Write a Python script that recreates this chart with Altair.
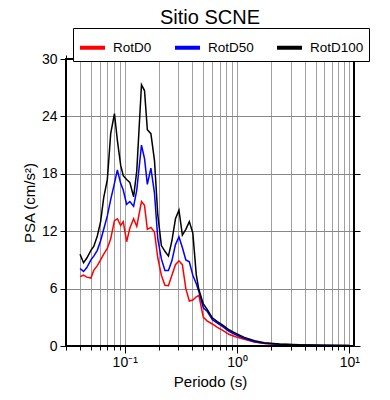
import altair as alt
import pandas as pd

# Periods (s)
periods = [0.040, 0.043, 0.046, 0.050, 0.053, 0.057, 0.061, 0.065, 0.070, 0.075,
           0.081, 0.086, 0.092, 0.097, 0.104, 0.111, 0.120, 0.128, 0.141, 0.150,
           0.159, 0.171, 0.184, 0.197, 0.212, 0.228, 0.245, 0.263, 0.283, 0.304,
           0.326, 0.350, 0.376, 0.404, 0.434, 0.457, 0.501, 0.544, 0.603, 0.668,
           0.740, 0.854, 0.986, 1.16, 1.43, 1.75, 2.38, 3.58, 5.40, 8.13, 10.0]

rotd100 = [9.6, 8.7, 9.2, 10.0, 10.4, 11.5, 13.0, 15.5, 17.4, 22.2,
           24.3, 21.5, 18.9, 17.8, 17.4, 17.1, 15.6, 18.3, 27.3, 26.7,
           22.6, 22.2, 19.4, 13.7, 10.5, 9.9, 9.4, 11.0, 13.3, 14.2,
           11.6, 12.2, 13.0, 11.8, 7.4, 5.9, 4.4, 3.8, 2.95, 2.55,
           2.2, 1.67, 1.3, 0.9, 0.55, 0.35, 0.22, 0.13, 0.09, 0.06, 0.05]

rotd50 = [8.1, 7.8, 8.2, 9.0, 9.4, 10.0, 11.0, 12.2, 13.6, 15.3,
          17.0, 18.4, 17.0, 16.3, 14.8, 15.1, 14.6, 16.3, 21.0, 19.6,
          16.9, 18.6, 16.0, 11.2, 9.1, 7.9, 7.9, 8.9, 10.6, 11.4,
          10.3, 9.0, 8.8, 7.4, 6.5, 5.7, 4.0, 3.6, 2.75, 2.4,
          2.05, 1.5, 1.15, 0.8, 0.45, 0.3, 0.18, 0.11, 0.07, 0.05, 0.04]

rotd0 = [7.25, 7.4, 7.2, 7.1, 7.9, 8.4, 9.0, 9.6, 10.2, 11.2,
         13.1, 13.3, 12.6, 13.0, 10.9, 12.3, 13.3, 12.5, 15.1, 14.7,
         12.2, 12.4, 11.9, 9.2, 7.4, 6.35, 6.3, 7.4, 8.5, 8.9,
         8.5, 6.0, 4.7, 4.8, 5.15, 5.3, 3.0, 2.6, 2.3, 1.95,
         1.65, 1.2, 0.95, 0.7, 0.42, 0.25, 0.15, 0.09, 0.06, 0.04, 0.03]

series_names = ["RotD0", "RotD50", "RotD100"]
series_colors = ["#ff0000", "#0000ff", "#000000"]

major_ticks = [0.1, 1, 10]
minor_ticks = [0.03, 0.04, 0.05, 0.06, 0.07, 0.08, 0.09,
               0.2, 0.3, 0.4, 0.5, 0.6, 0.7, 0.8, 0.9,
               2, 3, 4, 5, 6, 7, 8, 9]
grid_x = sorted([t for t in minor_ticks if t > 0.031] + major_ticks)
y_ticks = [0, 6, 12, 18, 24, 30]

rows = []
for name, vals in zip(series_names, [rotd0, rotd50, rotd100]):
    for p, v in zip(periods, vals):
        rows.append({"period": p, "psa": v, "serie": name})
df = pd.DataFrame(rows)

W, H = 288, 287
FONT = "Liberation Sans"
xscale = alt.Scale(type="log", domain=[0.03, 11], nice=False)
yscale = alt.Scale(domain=[0, 30], nice=False, zero=True)

base = alt.Chart(df)

lines = base.mark_line(strokeWidth=1.5).encode(
    x=alt.X("period:Q", scale=xscale,
            axis=alt.Axis(orient="bottom", values=major_ticks, tickSize=7,
                          tickColor="black", grid=False, domain=False,
                          labelExpr="datum.value < 0.5 ? '10⁻¹' : (datum.value < 5 ? '10⁰' : '10¹')",
                          labelFont=FONT, labelFontSize=14, labelColor="black",
                          labelPadding=2, title="Periodo (s)", titleFont=FONT,
                          titleFontSize=15, titleFontWeight="normal",
                          titleColor="black", titlePadding=5)),
    y=alt.Y("psa:Q", scale=yscale,
            axis=alt.Axis(orient="left", values=y_ticks, tickSize=6,
                          tickColor="black", grid=False, domain=False,
                          labelFont=FONT, labelFontSize=14, labelColor="black",
                          labelPadding=3, title="PSA (cm/s²)", titleFont=FONT,
                          titleFontSize=15, titleFontWeight="normal",
                          titleColor="black", titlePadding=4)),
    color=alt.Color("serie:N",
                    scale=alt.Scale(domain=series_names, range=series_colors),
                    legend=alt.Legend(orient="none", legendX=7, legendY=-31,
                                      direction="horizontal", columns=3,
                                      symbolType="stroke", symbolStrokeWidth=4,
                                      symbolSize=625, labelFont=FONT,
                                      labelFontSize=13.5, labelColor="black",
                                      labelOffset=6, columnPadding=15,
                                      strokeColor="black", fillColor="white",
                                      padding=5, title=None)),
)

grid_layer = base.mark_point(opacity=0).encode(
    x=alt.X("period:Q", scale=xscale,
            axis=alt.Axis(orient="bottom", values=grid_x, ticks=False,
                          labels=False, grid=True, gridColor="#a0a0a0",
                          gridWidth=1, domain=False, title=None)),
    y=alt.Y("psa:Q", scale=yscale,
            axis=alt.Axis(orient="left", values=[6, 12, 18, 24], ticks=False,
                          labels=False, grid=True, gridColor="#888888",
                          gridWidth=1, domain=False, title=None)),
)

minor_bottom = base.mark_point(opacity=0).encode(
    x=alt.X("period:Q", scale=xscale,
            axis=alt.Axis(orient="bottom", values=minor_ticks, tickSize=4,
                          tickColor="black", labels=False, grid=False,
                          domain=False, title=None)),
    y=alt.Y("psa:Q", scale=yscale, axis=None),
)

major_top = base.mark_point(opacity=0).encode(
    x=alt.X("period:Q", scale=xscale,
            axis=alt.Axis(orient="top", values=major_ticks, tickSize=7,
                          tickColor="black", labels=False, grid=False,
                          domain=False, title=None)),
    y=alt.Y("psa:Q", scale=yscale, axis=None),
)

minor_top = base.mark_point(opacity=0).encode(
    x=alt.X("period:Q", scale=xscale,
            axis=alt.Axis(orient="top", values=minor_ticks, tickSize=4,
                          tickColor="black", labels=False, grid=False,
                          domain=False, title=None)),
    y=alt.Y("psa:Q", scale=yscale, axis=None),
)

right_axis = base.mark_point(opacity=0).encode(
    x=alt.X("period:Q", scale=xscale, axis=None),
    y=alt.Y("psa:Q", scale=yscale,
            axis=alt.Axis(orient="right", values=y_ticks, tickSize=6,
                          tickColor="black", labels=False, grid=False,
                          domain=False, title=None)),
)

frame = alt.Chart(pd.DataFrame({"f": [0]})).mark_rect(
    filled=False, stroke="black", strokeWidth=2
).encode(
    x=alt.value(0), x2=alt.value(W), y=alt.value(0), y2=alt.value(H)
)

chart = alt.layer(
    grid_layer, minor_bottom, major_top, minor_top, right_axis, lines, frame
).resolve_axis(
    x="independent", y="independent"
).properties(
    width=W,
    height=H,
    autosize=alt.AutoSizeParams(type="none"),
    padding={"left": 58, "top": 51, "right": 28, "bottom": 46},
    title=alt.Title("Sitio SCNE", font=FONT, fontSize=20, fontWeight="normal",
                    color="black", anchor="middle", frame="group",
                    offset=0),
).configure_view(
    strokeWidth=0
).configure_legend(
    strokeWidth=1.5
).configure(font=FONT)

chart.save("out.html", embed_options={"renderer": "svg", "actions": False})
